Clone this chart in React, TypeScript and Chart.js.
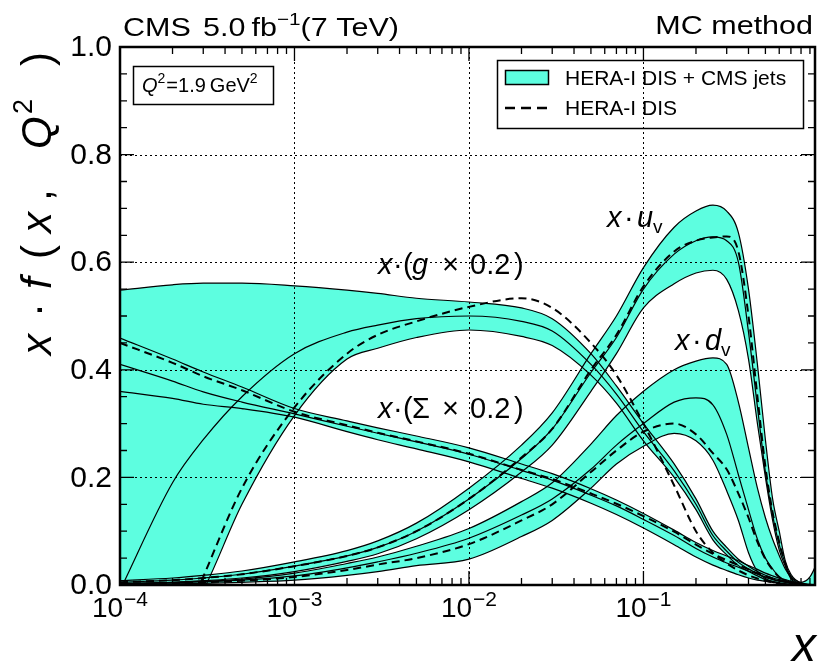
import React, { useEffect, useRef } from 'react';
import { Chart, registerables } from 'chart.js';

Chart.register(...registerables);

// ---------------- data ----------------
const X_VALUES = [1e-4, 2e-4, 3e-4, 5e-4, 1e-3, 2e-3, 3e-3, 5e-3, 0.01, 0.02, 0.03, 0.05, 0.07, 0.1, 0.15, 0.2, 0.25, 0.3, 0.35, 0.4, 0.45, 0.5, 0.55, 0.6, 0.65, 0.7, 0.8, 0.9, 1.0];

// x·(g × 0.2)
const gluonUp = [0.548, 0.558, 0.561, 0.561, 0.556, 0.548, 0.542, 0.533, 0.526, 0.515, 0.495, 0.43, 0.37, 0.30, 0.225, 0.16, 0.10, 0.07, 0.048, 0.035, 0.025, 0.018, 0.013, 0.01, 0.008, 0.006, 0.005, 0.015, 0.045];
const gluonMid = [-0.01, 0.19, 0.27, 0.35, 0.43, 0.47, 0.483, 0.495, 0.50, 0.49, 0.472, 0.41, 0.355, 0.285, 0.212, 0.15, 0.092, 0.063, 0.042, 0.03, 0.021, 0.014, 0.01, 0.007, 0.005, 0.003, 0.001, 0, 0];
const gluonLow = [-0.35, -0.1, -0.01, 0.15, 0.315, 0.42, 0.44, 0.46, 0.474, 0.462, 0.445, 0.39, 0.338, 0.268, 0.2, 0.14, 0.084, 0.056, 0.036, 0.025, 0.017, 0.01, 0.007, 0.004, 0.002, 0.001, 0, 0, 0];
const gluonHera = [-0.4, -0.12, 0.015, 0.18, 0.33, 0.43, 0.465, 0.49, 0.517, 0.533, 0.515, 0.45, 0.39, 0.30, 0.185, 0.1, 0.06, 0.04, 0.027, 0.018, 0.012, 0.008, 0.005, 0.003, 0.002, 0.001, 0, 0, 0];

// x·(Σ × 0.2)
const sigmaUp = [0.459, 0.42, 0.396, 0.368, 0.328, 0.305, 0.292, 0.277, 0.255, 0.225, 0.207, 0.179, 0.158, 0.133, 0.102, 0.079, 0.064, 0.054, 0.045, 0.036, 0.029, 0.022, 0.017, 0.013, 0.01, 0.007, 0.003, 0.001, 0];
const sigmaMid = [0.41, 0.379, 0.359, 0.34, 0.318, 0.295, 0.282, 0.266, 0.243, 0.213, 0.195, 0.167, 0.147, 0.122, 0.092, 0.068, 0.052, 0.041, 0.033, 0.026, 0.02, 0.015, 0.011, 0.008, 0.006, 0.004, 0.002, 0, 0];
const sigmaLow = [0.36, 0.347, 0.336, 0.328, 0.312, 0.285, 0.27, 0.253, 0.229, 0.198, 0.18, 0.152, 0.131, 0.106, 0.075, 0.052, 0.037, 0.027, 0.019, 0.013, 0.009, 0.007, 0.005, 0.003, 0.002, 0.001, 0, 0, 0];
const sigmaHera = [0.45, 0.413, 0.388, 0.362, 0.322, 0.297, 0.283, 0.267, 0.244, 0.214, 0.197, 0.17, 0.151, 0.128, 0.099, 0.075, 0.058, 0.046, 0.037, 0.029, 0.022, 0.017, 0.012, 0.009, 0.006, 0.004, 0.002, 0, 0];

// x·u_v
const uvUp = [0.008, 0.013, 0.018, 0.026, 0.043, 0.064, 0.082, 0.115, 0.18, 0.26, 0.32, 0.43, 0.5, 0.59, 0.665, 0.695, 0.706, 0.695, 0.655, 0.55, 0.41, 0.27, 0.16, 0.10, 0.045, 0.02, 0.003, 0, 0];
const uvMid = [0.005, 0.009, 0.013, 0.02, 0.035, 0.054, 0.07, 0.1, 0.16, 0.235, 0.29, 0.395, 0.46, 0.55, 0.615, 0.64, 0.647, 0.64, 0.60, 0.47, 0.331, 0.21, 0.13, 0.075, 0.04, 0.015, 0.002, 0, 0];
const uvLow = [0.002, 0.005, 0.008, 0.013, 0.025, 0.044, 0.058, 0.086, 0.14, 0.21, 0.26, 0.36, 0.43, 0.515, 0.56, 0.58, 0.585, 0.568, 0.51, 0.42, 0.3, 0.2, 0.12, 0.065, 0.035, 0.012, 0.001, 0, 0];
const uvHera = [0.005, 0.009, 0.013, 0.02, 0.035, 0.054, 0.07, 0.1, 0.16, 0.237, 0.29, 0.40, 0.465, 0.555, 0.62, 0.64, 0.646, 0.648, 0.62, 0.50, 0.35, 0.22, 0.135, 0.08, 0.04, 0.015, 0.002, 0, 0];

// x·d_v
const dvUp = [0.003, 0.005, 0.007, 0.011, 0.022, 0.04, 0.052, 0.072, 0.105, 0.155, 0.19, 0.262, 0.315, 0.36, 0.40, 0.416, 0.422, 0.41, 0.34, 0.255, 0.18, 0.125, 0.085, 0.055, 0.03, 0.015, 0.004, 0, 0];
const dvMid = [0.002, 0.004, 0.006, 0.009, 0.017, 0.032, 0.043, 0.059, 0.087, 0.13, 0.16, 0.215, 0.26, 0.30, 0.34, 0.348, 0.335, 0.28, 0.205, 0.14, 0.085, 0.05, 0.03, 0.015, 0.008, 0.004, 0.001, 0, 0];
const dvLow = [0.001, 0.002, 0.003, 0.005, 0.009, 0.018, 0.025, 0.036, 0.048, 0.09, 0.12, 0.18, 0.225, 0.258, 0.282, 0.268, 0.232, 0.175, 0.12, 0.06, 0.025, 0.012, 0.006, 0.003, 0.001, 0, 0, 0, 0];
const dvHera = [0.002, 0.003, 0.005, 0.008, 0.015, 0.028, 0.038, 0.05, 0.076, 0.12, 0.15, 0.21, 0.25, 0.285, 0.30, 0.28, 0.245, 0.215, 0.17, 0.125, 0.08, 0.048, 0.028, 0.015, 0.008, 0.004, 0.001, 0, 0];

const Y_TICKS = [0, 0.2, 0.4, 0.6, 0.8, 1.0];
const Y_TICK_LABELS = ['0.0', '0.2', '0.4', '0.6', '0.8', '1.0'];
const X_TICKS = [1e-4, 1e-3, 1e-2, 1e-1];
const X_TICK_EXPONENTS = ['\u22124', '\u22123', '\u22122', '\u22121'];
const LEGEND_LABELS = ['HERA-I DIS + CMS jets', 'HERA-I DIS'];

// ---------------- style ----------------
const FONT = '"Liberation Sans", Arial, Helvetica, sans-serif';
const CYAN = '#5dfee0';
const X_MIN = 1e-4;
const X_MAX = 0.962;

type Seg = { t: string; size: number; it?: boolean; dy?: number; at?: number; gap?: number };

function segWidth(ctx: CanvasRenderingContext2D, s: Seg) {
  ctx.font = `${s.it ? 'italic ' : ''}${s.size}px ${FONT}`;
  return ctx.measureText(s.t).width;
}

function richWidth(ctx: CanvasRenderingContext2D, segs: Seg[], sx = 1) {
  let w = 0;
  for (const s of segs) w += ((s.gap || 0) + segWidth(ctx, s)) * sx;
  return w;
}

function drawRich(ctx: CanvasRenderingContext2D, x: number, y: number, segs: Seg[], sx = 1) {
  let cx = 0;
  for (const s of segs) {
    if (s.at !== undefined) cx = s.at;
    cx += s.gap || 0;
    ctx.font = `${s.it ? 'italic ' : ''}${s.size}px ${FONT}`;
    ctx.save();
    ctx.translate(x + cx * sx, y + (s.dy || 0));
    ctx.scale(sx, 1);
    ctx.fillText(s.t, 0, 0);
    ctx.restore();
    cx += ctx.measureText(s.t).width;
  }
}

const decoPlugin = {
  id: 'deco',
  beforeDatasetsDraw(chart: any) {
    const { ctx, chartArea: a, scales } = chart;
    const xs = scales.x, ys = scales.y;
    ctx.save();
    ctx.beginPath();
    ctx.rect(a.left, a.top, a.right - a.left, a.bottom - a.top);
    ctx.clip();
    ctx.strokeStyle = '#000';
    ctx.lineWidth = 1;
    ctx.setLineDash([2, 3]);
    ctx.beginPath();
    for (const v of Y_TICKS) {
      if (v === 0 || v === 1) continue;
      const py = Math.round(ys.getPixelForValue(v)) + 0.5;
      ctx.moveTo(a.left, py);
      ctx.lineTo(a.right, py);
    }
    for (const v of X_TICKS) {
      if (v === X_MIN) continue;
      const px = Math.round(xs.getPixelForValue(v)) + 0.5;
      ctx.moveTo(px, a.top);
      ctx.lineTo(px, a.bottom);
    }
    ctx.stroke();
    ctx.restore();
  },
  afterDraw(chart: any) {
    const { ctx, chartArea: a, scales } = chart;
    const xs = scales.x, ys = scales.y;
    ctx.save();
    ctx.fillStyle = '#000';
    ctx.strokeStyle = '#000';
    ctx.setLineDash([]);

    // ticks
    ctx.lineWidth = 1.3;
    ctx.beginPath();
    for (let k = 0; k <= 20; k++) {
      const v = k * 0.05;
      const py = ys.getPixelForValue(v);
      const len = k % 4 === 0 ? 14 : 7;
      ctx.moveTo(a.left, py); ctx.lineTo(a.left + len, py);
      ctx.moveTo(a.right, py); ctx.lineTo(a.right - len, py);
    }
    for (let e = -4; e <= 0; e++) {
      for (let m = 1; m <= 9; m++) {
        const v = m * Math.pow(10, e);
        if (v < X_MIN || v > X_MAX) continue;
        const px = xs.getPixelForValue(v);
        const len = m === 1 ? 14 : 7;
        ctx.moveTo(px, a.bottom); ctx.lineTo(px, a.bottom - len);
        ctx.moveTo(px, a.top); ctx.lineTo(px, a.top + len);
      }
    }
    ctx.stroke();

    // frame
    ctx.lineWidth = 2.5;
    ctx.strokeRect(a.left, a.top, a.right - a.left, a.bottom - a.top);

    // y tick labels
    ctx.font = `30px ${FONT}`;
    ctx.textAlign = 'right';
    ctx.textBaseline = 'middle';
    Y_TICKS.forEach((v, i) => ctx.fillText(Y_TICK_LABELS[i], a.left - 8, ys.getPixelForValue(v) + 1));

    ctx.textAlign = 'left';
    ctx.textBaseline = 'alphabetic';

    // x tick labels
    X_TICKS.forEach((v, i) => {
      const segs: Seg[] = [{ t: '10', size: 28 }, { t: X_TICK_EXPONENTS[i], size: 21, dy: -11, gap: 1 }];
      const w = richWidth(ctx, segs);
      drawRich(ctx, xs.getPixelForValue(v) - w / 2, 617, segs);
    });

    // header
    const SX = 1.22;
    drawRich(ctx, 123, 36, [{ t: 'CMS', size: 25 }], SX);
    drawRich(ctx, 203, 36, [
      { t: '5.0', size: 25 },
      { t: 'fb', size: 25, gap: 5 },
      { t: '\u22121', size: 17, dy: -11 },
      { t: '(7 TeV)', size: 25 },
    ], SX);
    const mcSegs: Seg[] = [{ t: 'MC method', size: 25 }];
    drawRich(ctx, 813 - richWidth(ctx, mcSegs, SX), 34, mcSegs, SX);

    // axis titles
    const xTitle: Seg[] = [{ t: 'x', size: 48, it: true }];
    drawRich(ctx, 816 - richWidth(ctx, xTitle), 661, xTitle);

    ctx.save();
    ctx.translate(51, 355);
    ctx.rotate(-Math.PI / 2);
    drawRich(ctx, 0, 0, [
      { t: 'x', size: 42, it: true, at: 0 },
      { t: '\u00b7', size: 42, at: 38 },
      { t: 'f', size: 42, it: true, at: 66 },
      { t: '(', size: 42, at: 96 },
      { t: 'x', size: 42, it: true, at: 122 },
      { t: ',', size: 42, at: 154 },
      { t: 'Q', size: 42, it: true, at: 206 },
      { t: '2', size: 27, dy: -19, at: 241 },
      { t: ')', size: 42, at: 289 },
    ]);
    ctx.restore();

    // Q^2 box
    ctx.lineWidth = 1.5;
    ctx.strokeRect(133.5, 66.5, 140, 38);
    drawRich(ctx, 142, 92, [
      { t: 'Q', size: 20, it: true },
      { t: '2', size: 14, dy: -9 },
      { t: '=1.9', size: 20, gap: 1 },
      { t: 'GeV', size: 20, gap: 4 },
      { t: '2', size: 14, dy: -9 },
    ]);

    // legend
    ctx.lineWidth = 1.5;
    ctx.strokeRect(497.5, 60.5, 306, 68);
    ctx.fillStyle = CYAN;
    ctx.fillRect(505, 70, 44, 15);
    ctx.strokeRect(505.5, 70.5, 43, 14);
    ctx.fillStyle = '#000';
    ctx.font = `21px ${FONT}`;
    ctx.fillText(LEGEND_LABELS[0], 565, 85);
    ctx.fillText(LEGEND_LABELS[1], 565, 115);
    ctx.lineWidth = 2.5;
    ctx.setLineDash([10, 6]);
    ctx.beginPath();
    ctx.moveTo(505, 108);
    ctx.lineTo(549, 108);
    ctx.stroke();
    ctx.setLineDash([]);

    // curve labels
    const F = 29;
    const mkLabel = (sym: string): Seg[] => [
      { t: 'x', size: F, it: true, at: 0 },
      { t: '\u00b7', size: F, at: 15 },
      { t: '(', size: F, at: 25 },
      { t: sym, size: F, it: sym === 'g', at: 34 },
      { t: '\u00d7', size: F, at: 64 },
      { t: '0.2', size: F, at: 92 },
      { t: ')', size: F, at: 136 },
    ];
    drawRich(ctx, 378, 274, mkLabel('g'));
    drawRich(ctx, 378, 418, mkLabel('\u03a3'));
    drawRich(ctx, 607, 227, [
      { t: 'x', size: F, it: true, at: 0 },
      { t: '\u00b7', size: F, at: 17 },
      { t: 'u', size: F, it: true, at: 30 },
      { t: 'v', size: 19, at: 46, dy: 6 },
    ]);
    drawRich(ctx, 675, 350, [
      { t: 'x', size: F, it: true, at: 0 },
      { t: '\u00b7', size: F, at: 17 },
      { t: 'd', size: F, it: true, at: 30 },
      { t: 'v', size: 19, at: 46, dy: 6 },
    ]);

    ctx.restore();
  },
};

function bandDatasets(up: number[], lo: number[], mid: number[], hera: number[]) {
  const mk = (d: number[]) => X_VALUES.map((x, i) => ({ x, y: d[i] }));
  const common = {
    borderColor: '#000',
    pointRadius: 0,
    cubicInterpolationMode: 'monotone' as const,
    clip: 0,
  };
  return [
    { ...common, data: mk(up), borderWidth: 1.2, backgroundColor: CYAN, fill: '+1' },
    { ...common, data: mk(lo), borderWidth: 1.2, fill: false },
    { ...common, data: mk(mid), borderWidth: 1.2, fill: false },
    { ...common, data: mk(hera), borderWidth: 2, borderDash: [8, 5], fill: false },
  ];
}

export default function App() {
  const ref = useRef<HTMLCanvasElement>(null);
  useEffect(() => {
    const canvas = ref.current;
    if (!canvas) return;
    const chart = new Chart(canvas, {
      type: 'line',
      data: {
        datasets: [
          ...bandDatasets(gluonUp, gluonLow, gluonMid, gluonHera),
          ...bandDatasets(sigmaUp, sigmaLow, sigmaMid, sigmaHera),
          ...bandDatasets(uvUp, uvLow, uvMid, uvHera),
          ...bandDatasets(dvUp, dvLow, dvMid, dvHera),
        ] as any,
      },
      options: {
        responsive: false,
        animation: false,
        events: [],
        layout: { padding: { left: 120, right: 10, top: 47, bottom: 81 } },
        scales: {
          x: { type: 'logarithmic', min: X_MIN, max: X_MAX, display: false },
          y: { type: 'linear', min: 0, max: 1, display: false },
        },
        plugins: {
          legend: { display: false },
          tooltip: { enabled: false },
          filler: { drawTime: 'beforeDatasetsDraw', propagate: false },
        } as any,
      },
      plugins: [decoPlugin],
    });
    return () => chart.destroy();
  }, []);
  return (
    <div style={{ position: 'fixed', left: 0, top: 0, width: 825, height: 666, background: '#fff' }}>
      <canvas ref={ref} width={825} height={666} style={{ display: 'block' }} />
    </div>
  );
}
